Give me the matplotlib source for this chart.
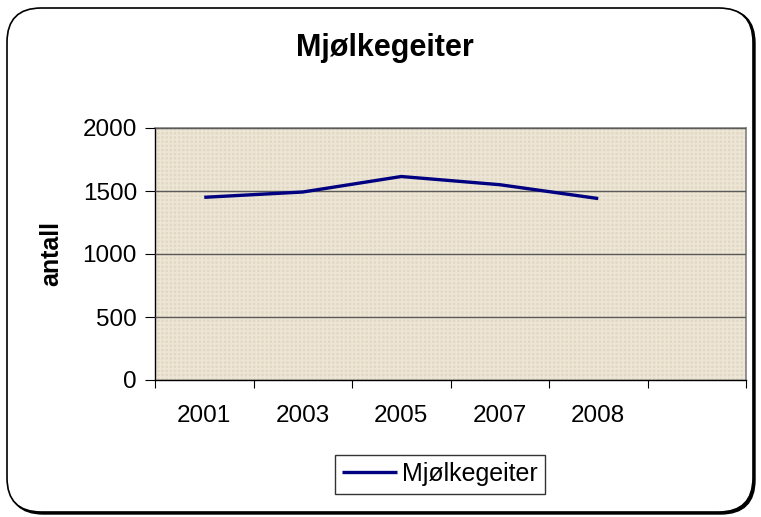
import matplotlib
matplotlib.use("Agg")
import matplotlib.pyplot as plt
from matplotlib.patches import FancyBboxPatch, Rectangle
import numpy as np

plt.rcParams['font.family'] = ['Liberation Sans', 'DejaVu Sans']

categories = ["2001", "2003", "2005", "2007", "2008", ""]
values = [1450, 1492, 1615, 1550, 1440]
series_name = "Mjølkegeiter"
title = "Mjølkegeiter"
ylabel = "antall"
yticks = [0, 500, 1000, 1500, 2000]

W, H = 761, 517
fig = plt.figure(figsize=(W / 100, H / 100), dpi=100)
fig.patch.set_facecolor("white")

# outer rounded frame with shadow
shadow = FancyBboxPatch((9 / W, 3 / H), 746 / W, 505 / H,
                        boxstyle="round,pad=0,rounding_size=0.045",
                        transform=fig.transFigure, facecolor="black",
                        edgecolor="black", lw=1, zorder=0,
                        mutation_aspect=W / H)
fig.patches.append(shadow)
frame = FancyBboxPatch((7 / W, 5 / H), 746 / W, 504 / H,
                       boxstyle="round,pad=0,rounding_size=0.045",
                       transform=fig.transFigure, facecolor="white",
                       edgecolor="black", lw=1.2, zorder=1,
                       mutation_aspect=W / H)
fig.patches.append(frame)

ax = fig.add_axes([155 / W, 1 - 380 / H, (746 - 155) / W, (380 - 128) / H])
ax.set_zorder(2)
ax.set_facecolor("#E2D8C3")

# woven-texture look
plt.rcParams['hatch.linewidth'] = 1.2
tex = Rectangle((0, 0), 1, 1, transform=ax.transAxes, facecolor="none",
                edgecolor="#EDE6D6", hatch="++++", lw=0, zorder=0)
ax.add_patch(tex)

n = len(categories)
x = np.arange(len(values))
ax.plot(x, values, color="#000080", lw=2.4, solid_capstyle="butt",
        solid_joinstyle="miter", label=series_name, zorder=3)

ax.set_xlim(-0.5, n - 0.5)
ax.set_ylim(0, 2000)
ax.set_yticks(yticks)
ax.set_yticklabels([str(v) for v in yticks], fontsize=17.5)
ax.yaxis.grid(True, color="#5a5a5a", lw=1.0)
ax.set_axisbelow(False)
for gl in ax.yaxis.get_gridlines():
    gl.set_zorder(1)

ax.set_xticks(np.arange(n + 1) - 0.5)
ax.set_xticklabels([])
ax.set_xticks(np.arange(n), minor=True)
ax.set_xticklabels(categories, minor=True, fontsize=17.5)
ax.tick_params(axis="x", which="minor", length=0, pad=18)
ax.tick_params(axis="x", which="major", length=6, direction="out", color="black")
ax.tick_params(axis="y", length=7, direction="out", color="black", pad=6)

for s in ["top", "right"]:
    ax.spines[s].set_color("#808080")
    ax.spines[s].set_linewidth(1.2)
for s in ["left", "bottom"]:
    ax.spines[s].set_color("black")
    ax.spines[s].set_linewidth(1.0)

ax.set_ylabel(ylabel, fontsize=18, fontweight="bold", labelpad=14)

fig.text(385 / W, 1 - 48 / H, title, fontsize=22, fontweight="bold",
         ha="center", va="center", zorder=5)

leg = ax.legend(loc="center", bbox_to_anchor=(440 / W, 1 - 474 / H),
                bbox_transform=fig.transFigure, fontsize=18, frameon=True,
                fancybox=False, handlelength=2.2, handletextpad=0.2,
                borderpad=0.3, borderaxespad=0)
leg.get_frame().set_edgecolor("black")
leg.get_frame().set_linewidth(1.0)

fig.savefig("out.png", dpi=100)
